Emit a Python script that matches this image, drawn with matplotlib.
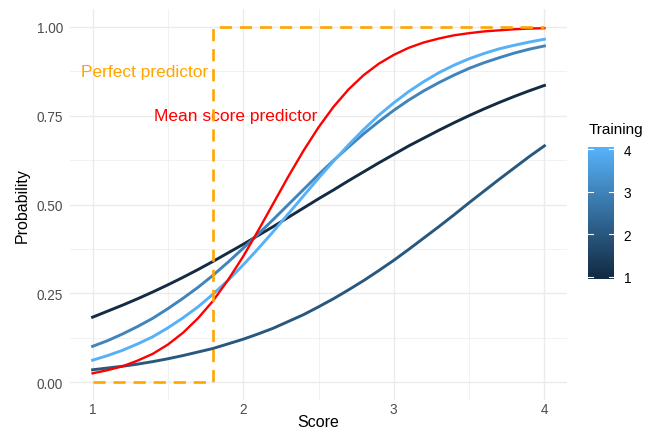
import numpy as np
import matplotlib
matplotlib.use("Agg")
import matplotlib.pyplot as plt
from matplotlib.colors import LinearSegmentedColormap

plt.rcParams['font.family'] = ['Liberation Sans', 'DejaVu Sans']

# values
score = [1.0, 1.1, 1.2, 1.3, 1.4, 1.5, 1.6, 1.7, 1.8, 1.9, 2.0, 2.1, 2.2, 2.3, 2.4, 2.5,
         2.6, 2.7, 2.8, 2.9, 3.0, 3.1, 3.2, 3.3, 3.4, 3.5, 3.6, 3.7, 3.8, 3.9, 4.0]
training = [1, 2, 3, 4]
prob_t1 = [0.183, 0.200, 0.217, 0.235, 0.254, 0.274, 0.295, 0.317, 0.340, 0.364, 0.388,
           0.413, 0.438, 0.464, 0.490, 0.516, 0.541, 0.567, 0.592, 0.617, 0.641, 0.665,
           0.687, 0.709, 0.730, 0.750, 0.769, 0.787, 0.804, 0.820, 0.835]
prob_t2 = [0.035, 0.040, 0.045, 0.051, 0.058, 0.066, 0.075, 0.085, 0.095, 0.108, 0.121,
           0.136, 0.152, 0.171, 0.190, 0.212, 0.235, 0.260, 0.286, 0.314, 0.343, 0.374,
           0.406, 0.438, 0.471, 0.505, 0.538, 0.571, 0.603, 0.635, 0.665]
prob_t3 = [0.101, 0.117, 0.136, 0.157, 0.180, 0.207, 0.236, 0.267, 0.301, 0.338, 0.377,
           0.417, 0.458, 0.500, 0.542, 0.584, 0.624, 0.662, 0.699, 0.733, 0.765, 0.794,
           0.820, 0.843, 0.864, 0.883, 0.899, 0.913, 0.926, 0.937, 0.946]
prob_t4 = [0.062, 0.075, 0.090, 0.108, 0.128, 0.153, 0.181, 0.212, 0.248, 0.287, 0.330,
           0.376, 0.424, 0.474, 0.524, 0.574, 0.622, 0.668, 0.711, 0.751, 0.786, 0.818,
           0.846, 0.871, 0.892, 0.910, 0.925, 0.938, 0.948, 0.957, 0.965]
prob_mean = [0.025, 0.034, 0.045, 0.061, 0.080, 0.106, 0.139, 0.180, 0.229, 0.288, 0.354,
             0.427, 0.503, 0.579, 0.651, 0.717, 0.775, 0.824, 0.864, 0.896, 0.921, 0.941,
             0.956, 0.967, 0.976, 0.982, 0.987, 0.990, 0.993, 0.995, 0.996]
perfect_x = [1.0, 1.8, 1.8, 4.0]
perfect_y = [0.0, 0.0, 1.0, 1.0]

cmap = LinearSegmentedColormap.from_list('gg', ['#132B43', '#56B1F7'])
norm = plt.Normalize(1, 4)

fig = plt.figure(figsize=(6.49, 4.31), dpi=100)
ax = fig.add_axes([70/649, 30/431, 497/649, 391/431])

# ggplot theme_minimal style grid
ax.set_xlim(0.85, 4.15)
ax.set_ylim(-0.05, 1.05)
for x in [1, 2, 3, 4]:
    ax.axvline(x, color='#EBEBEB', lw=1.0, zorder=0)
for x in [1.5, 2.5, 3.5]:
    ax.axvline(x, color='#EBEBEB', lw=0.5, zorder=0)
for y in [0, 0.25, 0.5, 0.75, 1.0]:
    ax.axhline(y, color='#EBEBEB', lw=1.0, zorder=0)
for y in [0.125, 0.375, 0.625, 0.875]:
    ax.axhline(y, color='#EBEBEB', lw=0.5, zorder=0)
for s in ax.spines.values():
    s.set_visible(False)

for t, p in zip(training, [prob_t1, prob_t2, prob_t3, prob_t4]):
    ax.plot(score, p, color=cmap(norm(t)), lw=2.1, solid_joinstyle='round', zorder=2)

ax.plot(score, prob_mean, color='red', lw=1.7, solid_joinstyle='round', zorder=3)
ax.plot(perfect_x, perfect_y, color='#FFA500', lw=1.9, dashes=(4.6, 3.0), zorder=4)

ax.text(1.77, 0.873, 'Perfect predictor', color='#FFA500', fontsize=12.5,
        ha='right', va='center')
ax.text(1.95, 0.75, 'Mean score predictor', color='red', fontsize=12.5,
        ha='center', va='center')

ax.set_xticks([1, 2, 3, 4])
ax.set_yticks([0, 0.25, 0.5, 0.75, 1.0])
ax.set_yticklabels(['0.00', '0.25', '0.50', '0.75', '1.00'])
ax.tick_params(axis='y', length=0, labelsize=9.8, labelcolor='#4D4D4D', pad=5)
ax.tick_params(axis='x', length=0, labelsize=9.8, labelcolor='#4D4D4D', pad=1.5)
ax.set_ylabel('Probability', fontsize=11.5, labelpad=5)
# x title placed by hand so it sits at the very bottom like the reference
fig.text((70 + 497/2)/649, 1 - 427/431, 'Score', fontsize=11.5,
         ha='center', va='baseline')

# colourbar legend
cax = fig.add_axes([588/649, (431-280)/431, 26/649, 132/431])
grad = np.linspace(4.05, 0.95, 300).reshape(-1, 1)
cax.imshow(grad, cmap=cmap, norm=norm, aspect='auto', extent=[0, 1, 0.95, 4.05])
cax.set_xlim(0, 1)
cax.set_ylim(0.95, 4.05)
for t in training:
    cax.plot([0, 0.2], [t, t], color='white', lw=0.8)
    cax.plot([0.8, 1], [t, t], color='white', lw=0.8)
cax.set_xticks([])
cax.yaxis.tick_right()
cax.set_yticks(training)
cax.tick_params(length=0, labelsize=9.8, pad=7)
for s in cax.spines.values():
    s.set_visible(False)
fig.text(589/649, 1 - 130/431, 'Training', fontsize=11, ha='left', va='center')

fig.savefig('out.png', dpi=100)
